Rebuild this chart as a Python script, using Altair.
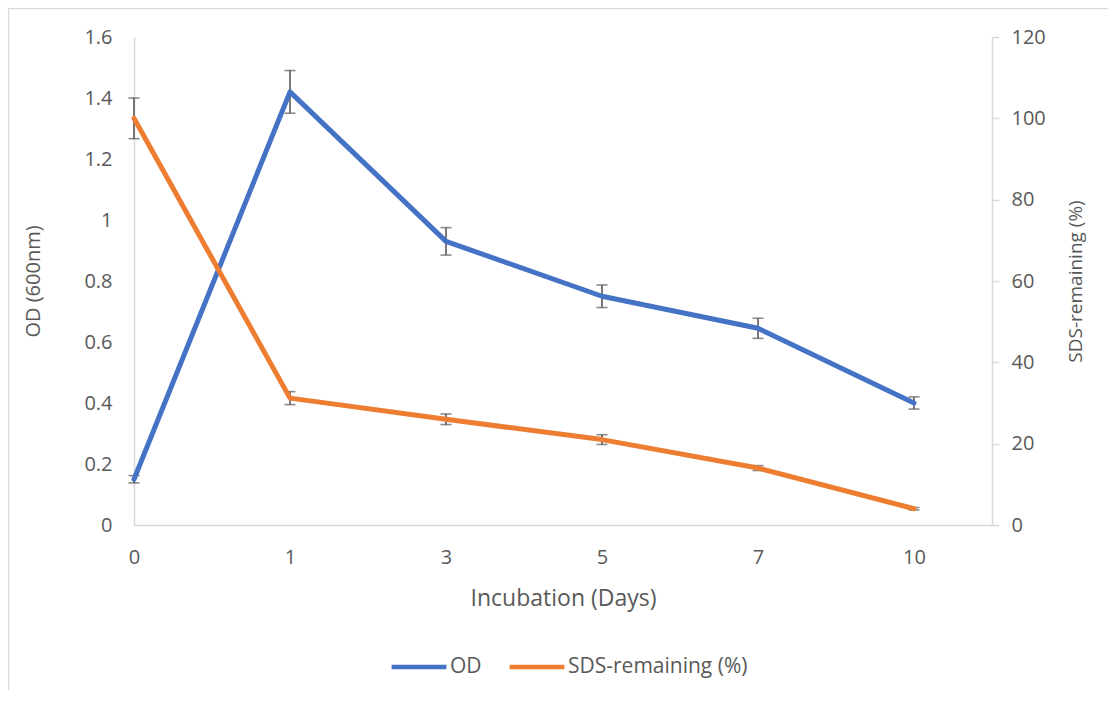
import altair as alt
import pandas as pd

days = ["0", "1", "3", "5", "7", "10"]
od = [0.15, 1.42, 0.93, 0.75, 0.645, 0.40]
od_err = [0.012, 0.07, 0.045, 0.037, 0.033, 0.02]
sds = [100, 31.2, 26.0, 21.0, 14.0, 4.0]
sds_err = [5.0, 1.6, 1.3, 1.2, 0.6, 0.3]

series_names = ["OD", "SDS-remaining (%)"]
series_colors = ["#4472C4", "#ED7D31"]

idx = list(range(len(days)))
df_od = pd.DataFrame({"i": idx, "day": days, "v": od,
                      "lo": [a - b for a, b in zip(od, od_err)],
                      "hi": [a + b for a, b in zip(od, od_err)],
                      "series": series_names[0]})
df_sds = pd.DataFrame({"i": idx, "day": days, "v": sds,
                       "lo": [a - b for a, b in zip(sds, sds_err)],
                       "hi": [a + b for a, b in zip(sds, sds_err)],
                       "series": series_names[1]})

FONT = "Open Sans"
GRAY = "#595959"
AXIS_LINE = "#D9D9D9"
LBL = 20

label_expr = "[" + ",".join("'%s'" % d for d in days) + "][datum.value]"

x_axis = alt.Axis(values=idx, labelExpr=label_expr, title="Incubation (Days)",
                  ticks=False, grid=False, domainColor=AXIS_LINE, domainWidth=1.5,
                  labelPadding=22, titlePadding=20, labelFontSize=LBL,
                  titleFontSize=23, labelColor=GRAY, titleColor=GRAY,
                  labelFont=FONT, titleFont=FONT, titleFontWeight="normal")
x_scale = alt.Scale(domain=[0, 5.5], nice=False, zero=False)

color_enc = alt.Color("series:N",
                      scale=alt.Scale(domain=series_names, range=series_colors),
                      legend=alt.Legend(title=None, orient="none", direction="horizontal",
                                        legendX=255, legendY=600,
                                        symbolType="stroke", symbolSize=3000,
                                        symbolStrokeWidth=4.5, labelFontSize=21,
                                        labelColor=GRAY, labelFont=FONT, labelLimit=400,
                                        labelOffset=1, columnPadding=18))

def block(df, domain, axis):
    y_scale = alt.Scale(domain=domain, nice=False, zero=True)
    base = alt.Chart(df)
    xe = alt.X("i:Q", scale=x_scale, axis=x_axis)
    err = base.mark_rule(color=GRAY, strokeWidth=1.6).encode(
        x=xe, y=alt.Y("lo:Q", scale=y_scale, axis=axis), y2="hi:Q")
    cap_lo = base.mark_tick(color=GRAY, orient="horizontal", size=11, thickness=1.6).encode(
        x=xe, y=alt.Y("lo:Q", scale=y_scale, axis=axis))
    cap_hi = base.mark_tick(color=GRAY, orient="horizontal", size=11, thickness=1.6).encode(
        x=xe, y=alt.Y("hi:Q", scale=y_scale, axis=axis))
    line = base.mark_line(strokeWidth=5, strokeCap="round", strokeJoin="round").encode(
        x=xe, y=alt.Y("v:Q", scale=y_scale, axis=axis), color=color_enc)
    return alt.layer(err, cap_lo, cap_hi, line)

left_axis = alt.Axis(title="OD (600nm)", values=[0, 0.2, 0.4, 0.6, 0.8, 1, 1.2, 1.4, 1.6],
                     labelExpr="format(datum.value, '')",
                     ticks=False, grid=False, domainColor=AXIS_LINE, domainWidth=1.5,
                     labelPadding=22, titlePadding=40, labelFontSize=LBL, titleFontSize=20,
                     labelColor=GRAY, titleColor=GRAY, labelFont=FONT, titleFont=FONT,
                     titleFontWeight="normal")
right_axis = alt.Axis(title="SDS-remaining (%)", orient="right",
                      values=[0, 20, 40, 60, 80, 100, 120],
                      ticks=True, tickSize=7, tickColor=AXIS_LINE, tickWidth=1.5,
                      grid=False, domainColor=AXIS_LINE, domainWidth=1.5,
                      labelPadding=12, titlePadding=40, labelFontSize=LBL, titleFontSize=19,
                      labelColor=GRAY, titleColor=GRAY, labelFont=FONT, titleFont=FONT,
                      titleFontWeight="normal", titleAngle=270)

a = block(df_od, [0, 1.6], left_axis)
b = block(df_sds, [0, 120], right_axis)

one = pd.DataFrame({"k": [0]})
border_top = alt.Chart(one).mark_rule(color=AXIS_LINE, strokeWidth=1.5).encode(
    x=alt.value(-126), x2=alt.value(990), y=alt.value(-28.5))
border_left = alt.Chart(one).mark_rule(color=AXIS_LINE, strokeWidth=1.5).encode(
    x=alt.value(-125.5), y=alt.value(-29), y2=alt.value(670))

chart = alt.layer(a, b).resolve_scale(y="independent")
chart = alt.layer(border_top, border_left, chart).properties(
    width=858, height=488,
    padding={"left": 126, "top": 29, "right": 116, "bottom": 165},
    autosize=alt.AutoSizeParams(type="none"),
).configure_view(stroke=None).configure_axis(
    labelFlush=False, labelFont=FONT, titleFont=FONT
).configure_legend(labelFont=FONT)

chart.save("out.html", embed_options={"renderer": "svg", "actions": False})
